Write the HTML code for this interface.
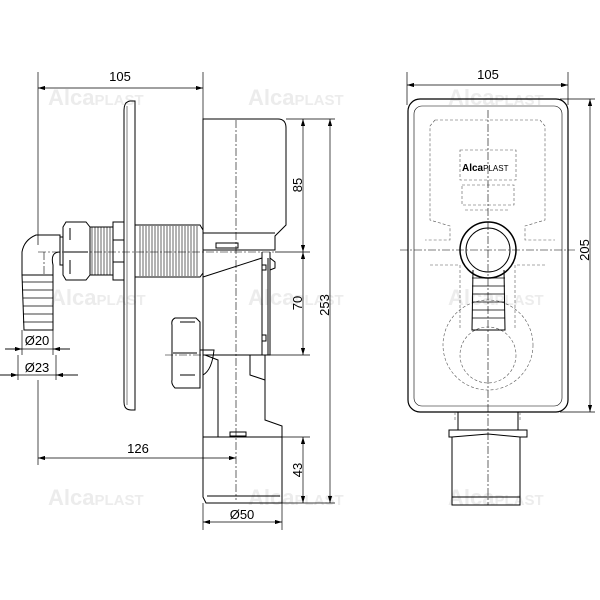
<!DOCTYPE html>
<html><head><meta charset="utf-8"><style>html,body{margin:0;padding:0;background:#fff}svg{display:block}</style></head><body>
<svg width="600" height="600" viewBox="0 0 600 600" xmlns="http://www.w3.org/2000/svg" font-family="Liberation Sans, sans-serif">
<defs>
<marker id="a" viewBox="0 0 10 6" refX="10" refY="3" markerWidth="10" markerHeight="6" orient="auto-start-reverse"><path d="M0,0L10,3L0,6z" fill="#000"/></marker>
</defs>
<!-- watermarks -->
<g fill="#ececec" font-size="22" font-weight="bold">
<text x="48" y="105">Alca<tspan font-size="15">PLAST</tspan></text>
<text x="248" y="105">Alca<tspan font-size="15">PLAST</tspan></text>
<text x="50" y="305">Alca<tspan font-size="15">PLAST</tspan></text>
<text x="248" y="305">Alca<tspan font-size="15">PLAST</tspan></text>
<text x="48" y="505">Alca<tspan font-size="15">PLAST</tspan></text>
<text x="248" y="505">Alca<tspan font-size="15">PLAST</tspan></text>
<text x="448" y="105">Alca<tspan font-size="15">PLAST</tspan></text>
<text x="448" y="305">Alca<tspan font-size="15">PLAST</tspan></text>
<text x="448" y="505">Alca<tspan font-size="15">PLAST</tspan></text>
</g>
<g fill="none" stroke="#000" stroke-width="1">
<!-- LEFT VIEW dims -->
<line x1="38" y1="72" x2="38" y2="245" stroke-width="0.7"/>
<line x1="38" y1="380" x2="38" y2="465" stroke-width="0.7"/>
<line x1="203" y1="72" x2="203" y2="120" stroke-width="0.7"/>
<line x1="38" y1="88" x2="203" y2="88" marker-start="url(#a)" marker-end="url(#a)" stroke-width="0.7"/>
<line x1="38" y1="458" x2="236" y2="458" marker-start="url(#a)" marker-end="url(#a)" stroke-width="0.7"/>
<line x1="5" y1="349" x2="70" y2="349" stroke-width="0.7"/>
<line x1="5" y1="349" x2="22" y2="349" marker-end="url(#a)" stroke-width="0.7"/>
<line x1="70" y1="349" x2="53" y2="349" marker-end="url(#a)" stroke-width="0.7"/>
<line x1="22" y1="330" x2="22" y2="355" stroke-width="0.7"/>
<line x1="53" y1="330" x2="53" y2="355" stroke-width="0.7"/>
<line x1="0" y1="375" x2="78" y2="375" stroke-width="0.7"/>
<line x1="0" y1="375" x2="18" y2="375" marker-end="url(#a)" stroke-width="0.7"/>
<line x1="78" y1="375" x2="56" y2="375" marker-end="url(#a)" stroke-width="0.7"/>
<line x1="18" y1="355" x2="18" y2="380" stroke-width="0.7"/>
<line x1="56" y1="355" x2="56" y2="380" stroke-width="0.7"/>
<line x1="286" y1="119" x2="335" y2="119" stroke-width="0.7"/>
<line x1="275" y1="252" x2="310" y2="252" stroke-width="0.7"/>
<line x1="270" y1="355" x2="310" y2="355" stroke-width="0.7"/>
<line x1="282" y1="437" x2="310" y2="437" stroke-width="0.7"/>
<line x1="282" y1="503" x2="335" y2="503" stroke-width="0.7"/>
<line x1="303" y1="119" x2="303" y2="252" marker-start="url(#a)" marker-end="url(#a)" stroke-width="0.7"/>
<line x1="303" y1="252" x2="303" y2="355" marker-start="url(#a)" marker-end="url(#a)" stroke-width="0.7"/>
<line x1="303" y1="437" x2="303" y2="503" marker-start="url(#a)" marker-end="url(#a)" stroke-width="0.7"/>
<line x1="330" y1="119" x2="330" y2="503" marker-start="url(#a)" marker-end="url(#a)" stroke-width="0.7"/>
<line x1="203" y1="503" x2="203" y2="530" stroke-width="0.7"/>
<line x1="282" y1="503" x2="282" y2="530" stroke-width="0.7"/>
<line x1="203" y1="522" x2="282" y2="522" marker-start="url(#a)" marker-end="url(#a)" stroke-width="0.7"/>
<!-- center lines -->
<g stroke-dasharray="8,2,2,2" stroke-width="0.6">
<line x1="38" y1="252" x2="275" y2="252"/>
<line x1="236" y1="120" x2="236" y2="500"/>
<line x1="165" y1="355" x2="270" y2="355"/>
<line x1="44" y1="252" x2="44" y2="275"/>
</g>
<!-- plate -->
<path d="M130,101 Q124,102 124,110 L124,402 Q124,410 131,410 L135,410 L135,101 Z"/>
<line x1="127" y1="106" x2="127" y2="405" stroke-width="0.5"/>
<!-- upper box -->
<path d="M203,119 L278,119 Q286,119 286,128 L286,225 L275,236 L275,250 L203,250 Z"/>
<path d="M203,233 L275,233"/>
<rect x="216" y="243" width="22" height="5"/>
<!-- mid body -->
<path d="M203,250 L203,355 L270,355 L270,252"/>
<path d="M203,277 L262,258"/>
<path d="M262,252 L262,355 M268,258 L268,355 M270,258 L275,262 L275,268 L270,270"/>
<rect x="262" y="265" width="4" height="5"/><rect x="262" y="335" width="4" height="6"/>
<!-- lower body -->
<path d="M203,355 L203,437 M265,355 L265,420 L282,426 L282,437 M203,437 L282,437 L282,503 L206,503 L203,497 Z"/>
<path d="M205,355 L218,360 L218,437"/>
<path d="M207,496 L280,496"/>
<path d="M250,355 L250,375 L265,380"/>
<rect x="230" y="432" width="16" height="4"/>
<!-- side nut -->
<path d="M175,318 L196,318 L200,322 L200,388 L175,388 Q171,384 172,380 L172,325 Q171,320 175,318 Z"/>
<path d="M180,322 L195,322 M173,353 L197,353 M180,375 L195,375"/>
<path d="M200,350 L214,350 Q212,370 203,375"/>
<!-- thread pipe -->
<path d="M135,225 L200,225 L203,230 L203,273 L200,277 L135,277"/>
<g stroke-width="0.6">
<path d="M140,226 V276 M143,226 V276 M146,226 V276 M149,226 V276 M152,226 V276 M155,226 V276 M158,226 V276 M161,226 V276 M164,226 V276 M167,226 V276 M170,226 V276 M173,226 V276 M176,226 V276 M179,226 V276 M182,226 V276 M185,226 V276 M188,226 V276 M191,226 V276 M194,226 V276 M197,226 V276"/>
<path d="M92,227 V275 M95,227 V275 M98,227 V275 M101,227 V275 M104,227 V275 M107,227 V275 M110,227 V275"/>
</g>
<path d="M90,227 L113,227 M90,275 L113,275"/>
<rect x="113" y="222" width="11" height="58"/>
<line x1="113" y1="240" x2="124" y2="240"/><line x1="113" y1="262" x2="124" y2="262"/>
<!-- left nut -->
<path d="M66,222 L86,222 L90,227 L90,275 L86,280 L66,280 L63,275 L63,227 Z"/>
<path d="M70,228 V240 M70,260 V274 M64,252 L88,252"/>
<path d="M63,237 L60,237 L60,265 L63,265"/>
<!-- elbow -->
<path d="M60,235 L36,235 Q24,240 22,252 L22,275 L53,275 L53,265 Q50,252 60,252 Z"/>
<!-- barb -->
<path d="M22,275 L53,275 L53,330 L24,330 Z"/>
<g stroke-width="0.7"><path d="M22,282 H53 M23,290 H53 M23,298 H53 M23,306 H53 M23,314 H53 M23,322 H53"/></g>

<!-- RIGHT VIEW -->
<line x1="407" y1="72" x2="407" y2="105" stroke-width="0.7"/>
<line x1="568" y1="72" x2="568" y2="105" stroke-width="0.7"/>
<line x1="407" y1="85" x2="568" y2="85" marker-start="url(#a)" marker-end="url(#a)" stroke-width="0.7"/>
<line x1="560" y1="99" x2="595" y2="99" stroke-width="0.7"/>
<line x1="560" y1="412" x2="595" y2="412" stroke-width="0.7"/>
<line x1="590" y1="99" x2="590" y2="412" marker-start="url(#a)" marker-end="url(#a)" stroke-width="0.7"/>
<rect x="408" y="99" width="160" height="313" rx="12" stroke-width="1.2"/>
<rect x="414" y="106" width="148" height="300" rx="8" stroke-width="0.6"/>
<g stroke-dasharray="3,2" stroke-width="0.6" stroke="#555">
<path d="M435,120 L540,120 L545,126 L545,220 L525,226 L525,240 L555,240 M435,120 L430,126 L430,220 L450,226 L450,240 L425,240"/>
<rect x="460" y="150" width="56" height="30"/>
<path d="M462,185 L514,185 L514,205 L462,205 Z"/>
<path d="M465,210 L510,210"/>
<path d="M430,265 L460,265 L460,330 M545,265 L515,265 L515,330"/>
<circle cx="488" cy="345" r="45"/>
<circle cx="488" cy="355" r="28"/>
<path d="M455,412 L455,420 M520,412 L520,420"/>
</g>
<g stroke-dasharray="8,2,2,2" stroke-width="0.6">
<line x1="488" y1="110" x2="488" y2="505"/>
<line x1="400" y1="250" x2="575" y2="250"/>
</g>
<circle cx="488" cy="250" r="28" stroke-width="1.5"/>
<circle cx="488" cy="250" r="22"/>
<path d="M473,270 L472,330 L505,330 L504,270"/>
<g stroke-width="0.7"><path d="M472,278 H505 M472,286 H505 M472,294 H505 M472,302 H505 M472,310 H505 M472,318 H505"/></g>
<path d="M458,412 L458,430 M518,412 L518,430"/>
<path d="M449,430 L527,430 L527,437 L520,437 L520,505 L452,505 L452,437 L449,437 Z"/>
<path d="M452,437 L488,434 L520,437"/>
<line x1="452" y1="497" x2="520" y2="497"/>
</g>
<g font-size="13" fill="#000">
<text x="120" y="81" text-anchor="middle">105</text>
<text x="488" y="79" text-anchor="middle">105</text>
<text x="138" y="453" text-anchor="middle">126</text>
<text x="37" y="345" text-anchor="middle">Ø20</text>
<text x="37" y="372" text-anchor="middle">Ø23</text>
<text x="242" y="519" text-anchor="middle">Ø50</text>
<text transform="translate(302,185) rotate(-90)" text-anchor="middle">85</text>
<text transform="translate(302,303) rotate(-90)" text-anchor="middle">70</text>
<text transform="translate(302,470) rotate(-90)" text-anchor="middle">43</text>
<text transform="translate(329,305) rotate(-90)" text-anchor="middle">253</text>
<text transform="translate(589,250) rotate(-90)" text-anchor="middle">205</text>
</g>
<text x="462" y="171" font-size="10" font-weight="bold">Alca<tspan font-weight="normal" font-size="8">PLAST</tspan></text>
</svg>
</body></html>
